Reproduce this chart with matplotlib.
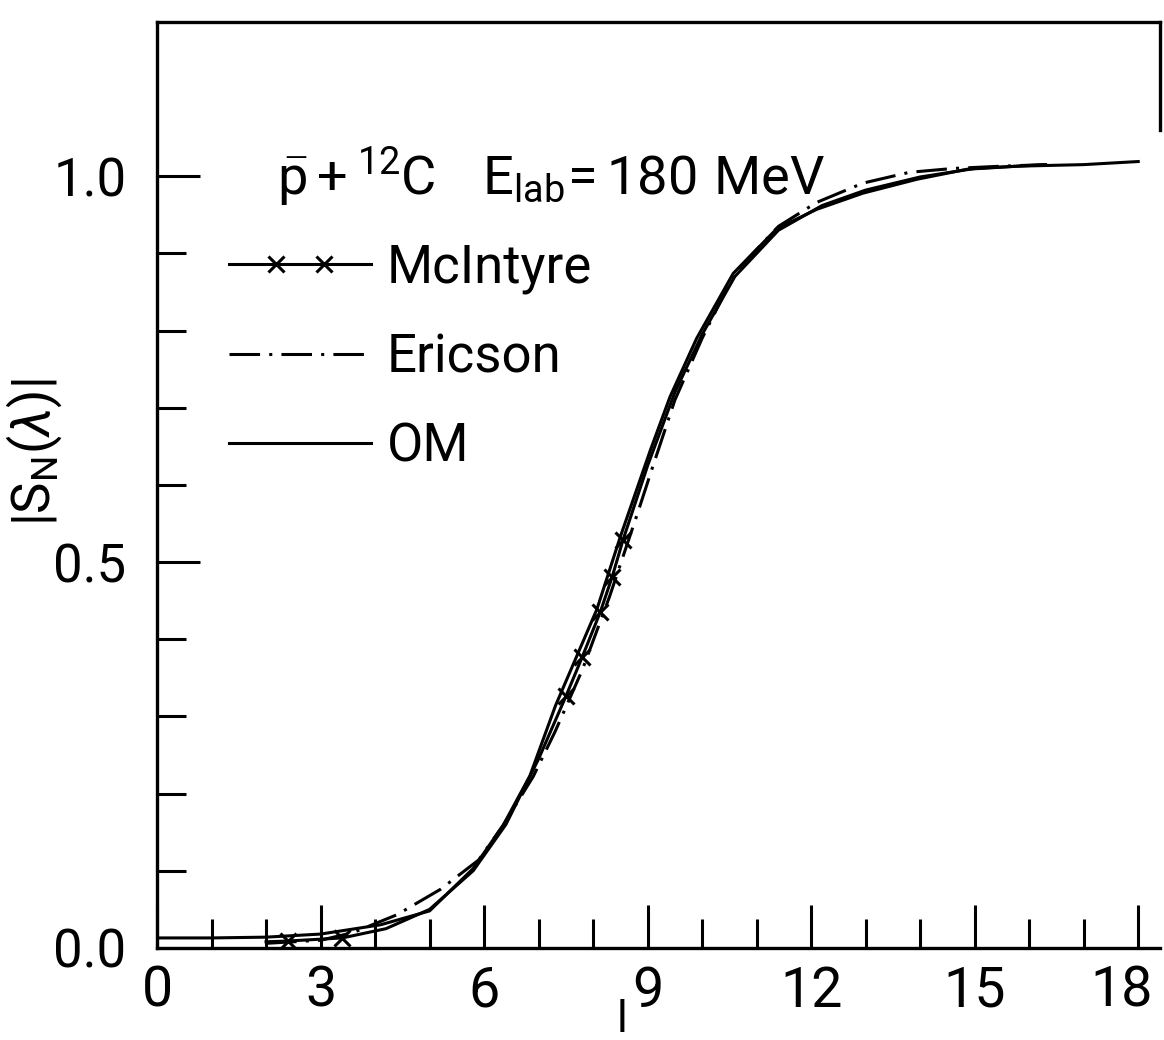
import matplotlib
matplotlib.use("Agg")
import numpy as np
import matplotlib.pyplot as plt
from matplotlib.ticker import MultipleLocator, FixedLocator
from matplotlib.legend_handler import HandlerLine2D
from matplotlib.lines import Line2D
from matplotlib.transforms import ScaledTranslation

plt.rcParams['font.family'] = ['Roboto', 'DejaVu Sans']
plt.rcParams['mathtext.fontset'] = 'custom'
plt.rcParams['mathtext.rm'] = 'Roboto'
plt.rcParams['mathtext.it'] = 'Roboto:italic'
plt.rcParams['mathtext.bf'] = 'Roboto:bold'

# values
om_l = [0, 1, 2, 3, 4.1, 5.0, 5.8, 6.35, 6.84, 7.31, 8.07, 8.5, 9.05, 9.41,
        9.9, 10.57, 11.37, 12.1, 12.95, 13.94, 14.86, 15.8, 17.0, 18.0]
om_s = [0.013, 0.013, 0.014, 0.018, 0.03, 0.048, 0.103, 0.159, 0.223, 0.314,
        0.439, 0.533, 0.645, 0.714, 0.79, 0.874, 0.932, 0.957, 0.978, 0.996,
        1.009, 1.013, 1.015, 1.019]

mc_l = [2.0, 2.4, 3.4, 4.2, 5.0, 5.8, 6.4, 7.0, 7.5, 7.8, 8.13, 8.35, 8.55,
        9.0, 9.5, 10.0, 10.6, 11.4, 12.2, 13.0, 14.0, 15.0, 16.3]
mc_s = [0.008, 0.009, 0.013, 0.025, 0.05, 0.10, 0.16, 0.245, 0.326, 0.377,
        0.435, 0.481, 0.529, 0.625, 0.72, 0.795, 0.87, 0.93, 0.962, 0.982,
        0.999, 1.01, 1.015]
mc_marked = [1, 2, 8, 9, 10, 11, 12]

er_l = [2.0, 3.0, 3.6, 4.4, 5.2, 5.9, 6.35, 6.9, 7.3, 7.8, 8.3, 8.8, 9.1,
        9.5, 10.0, 10.6, 11.4, 12.1, 12.95, 13.8, 14.6, 15.5, 16.3]
er_s = [0.006, 0.01, 0.02, 0.043, 0.076, 0.114, 0.159, 0.222, 0.28, 0.36,
        0.455, 0.56, 0.625, 0.71, 0.79, 0.875, 0.935, 0.966, 0.991, 1.005,
        1.01, 1.013, 1.015]

x_ticks = [0, 3, 6, 9, 12, 15, 18]
y_ticks = [0.0, 0.5, 1.0]
y_minor = [0.1, 0.2, 0.3, 0.4, 0.6, 0.7, 0.8, 0.9]
y_labels = ['0.0', '0.5', '1.0']


class CrossLineHandler(HandlerLine2D):
    # line over the full handle length, crosses at 1/3 and 2/3
    def create_artists(self, legend, orig_handle, xdescent, ydescent,
                       width, height, fontsize, trans):
        x = np.linspace(-xdescent, width - xdescent, 4)
        y = np.full_like(x, (height - ydescent) / 2)
        line = Line2D(x, y)
        self.update_prop(line, orig_handle, legend)
        line.set_markevery([1, 2])
        line.set_transform(trans)
        return [line]


fig = plt.figure(figsize=(11.64, 10.4), dpi=100)
ax = fig.add_axes([0.1349, 0.0885, 0.8617, 0.8905])

lw = 2.2
mc, = ax.plot(mc_l, mc_s, color='black', lw=lw, marker='x', ms=11, mew=2.2,
              markevery=mc_marked, label='McIntyre')
er, = ax.plot(er_l, er_s, color='black', lw=lw, linestyle=(0, (10, 3, 1, 3)),
              label='Ericson')
om, = ax.plot(om_l, om_s, color='black', lw=lw, label='OM')

ax.set_xlim(0, 18.4)
ax.set_ylim(0, 1.2)

ax.xaxis.set_major_locator(FixedLocator(x_ticks))
ax.xaxis.set_minor_locator(MultipleLocator(1))
ax.yaxis.set_major_locator(FixedLocator(y_ticks))
ax.yaxis.set_minor_locator(FixedLocator(y_minor))
ax.set_yticklabels(y_labels)

ax.tick_params(which='both', direction='in', width=2.2, top=False, right=False,
               labelsize=40)
ax.tick_params(axis='y', labelsize=38, pad=22)
ax.tick_params(which='major', length=31)
ax.tick_params(which='minor', length=21)
ax.tick_params(axis='x', pad=12)

# last x label sits against the figure edge
last = ax.get_xticklabels()[-1]
last.set_transform(last.get_transform() +
                   ScaledTranslation(-12 / 72, 0, fig.dpi_scale_trans))

for side in ['left', 'bottom', 'top', 'right']:
    ax.spines[side].set_linewidth(2.4)
ax.spines['right'].set_bounds(1.06, 1.2)

ax.set_ylabel(r'$|\mathrm{S}_{\mathrm{N}}(\lambda)|$', fontsize=38)
ax.yaxis.set_label_coords(-0.093, 0.535)
ax.set_xlabel('l', fontsize=32, va='top')
ax.xaxis.set_label_coords(0.464, -0.055)

ax.text(0.12, 0.813,
        r'$\bar{\mathrm{p}}+^{\mathrm{12}}\mathrm{C}\quad\mathrm{E}_{\mathrm{lab}}\!=\mathrm{180\ MeV}$',
        transform=ax.transAxes, fontsize=39, va='baseline', ha='left')

ax.legend(handles=[mc, er, om], loc='upper left', bbox_to_anchor=(0.045, 0.79),
          frameon=False, fontsize=38, handlelength=2.7, handletextpad=0.3,
          labelspacing=0.72, borderpad=0,
          handler_map={mc: CrossLineHandler()})

fig.savefig('out.png', dpi=100, facecolor='white')
